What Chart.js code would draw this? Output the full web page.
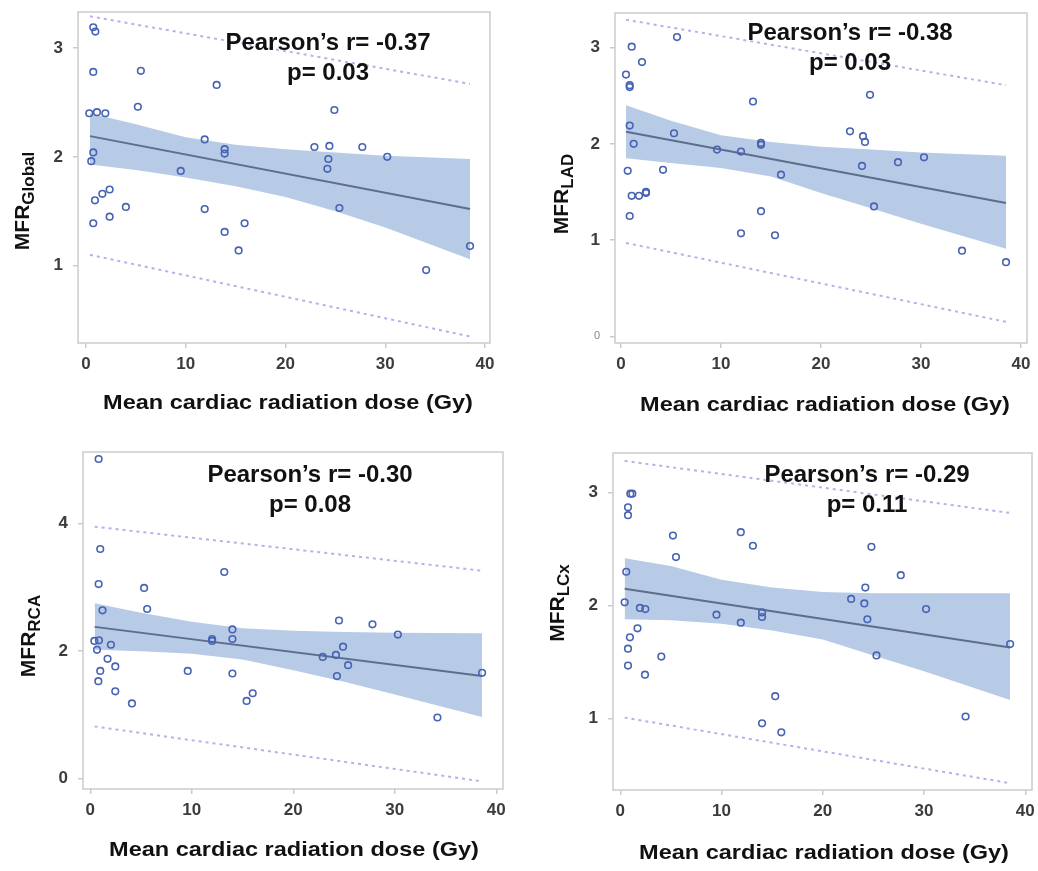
<!DOCTYPE html>
<html><head><meta charset="utf-8">
<script src="https://cdn.jsdelivr.net/npm/chart.js@4.4.1/dist/chart.umd.min.js"></script>
<style>
html,body{margin:0;padding:0;background:#fff;}
#wrap{position:relative;width:1038px;height:871px;overflow:hidden;background:#fff;}
canvas{position:absolute;}
</style></head><body><div id="wrap">
<canvas id="c1" width="519" height="430" style="left:0px;top:0px"></canvas>
<canvas id="c2" width="519" height="430" style="left:519px;top:0px"></canvas>
<canvas id="c3" width="519" height="441" style="left:0px;top:430px"></canvas>
<canvas id="c4" width="519" height="441" style="left:519px;top:430px"></canvas>
</div>
<script>
// ---------- DATA ----------
const xTicks = [0, 10, 20, 30, 40];
const xTitle = "Mean cardiac radiation dose (Gy)";
const yLabelMain = "MFR";

// Panel 1: MFR Global
const doseGlobal = [0.73,0.94,0.73,5.5,13.1,0.33,1.1,1.94,5.2,24.9,11.9,13.9,13.9,22.9,24.4,27.7,30.2,24.3,24.2,0.73,0.53,9.5,2.37,1.64,0.9,4.0,11.9,2.37,25.4,0.73,15.9,13.9,15.3,38.5,34.1];
const mfrGlobal  = [3.19,3.15,2.78,2.79,2.66,2.40,2.41,2.40,2.46,2.43,2.16,2.07,2.03,2.09,2.10,2.09,2.00,1.98,1.89,2.04,1.96,1.87,1.70,1.66,1.60,1.54,1.52,1.45,1.53,1.39,1.39,1.31,1.14,1.18,0.96];
const fitXGlobal = [0.4, 38.5];
const fitYGlobal = [2.19, 1.52];
const bandXGlobal = [0.4, 5, 10, 15, 20, 25, 30, 38.5];
const ciUpGlobal  = [2.40, 2.30, 2.18, 2.11, 2.07, 2.04, 2.01, 1.98];
const ciLoGlobal  = [1.93, 1.88, 1.81, 1.73, 1.63, 1.50, 1.35, 1.06];
const piUpGlobal  = [3.29, 2.67];
const piLoGlobal  = [1.10, 0.35];
const yTicksGlobal = [1, 2, 3];

// Panel 2: MFR LAD
const doseLAD = [5.6,1.07,2.1,0.5,0.87,0.87,13.2,24.9,0.87,1.27,5.3,9.6,12.0,14.0,14.0,22.9,24.2,24.4,24.1,27.7,30.3,16.0,0.67,4.2,1.07,1.8,2.5,2.5,0.87,25.3,14.0,12.0,15.4,34.1,38.5];
const mfrLAD  = [3.11,3.01,2.85,2.72,2.61,2.59,2.44,2.51,2.19,2.00,2.11,1.94,1.92,2.01,1.99,2.13,2.08,2.02,1.77,1.81,1.86,1.68,1.72,1.73,1.46,1.46,1.49,1.50,1.25,1.35,1.30,1.07,1.05,0.89,0.77];
const fitXLAD = [0.5, 38.5];
const fitYLAD = [2.125, 1.385];
const bandXLAD = [0.5, 5, 10, 15, 20, 25, 30, 38.5];
const ciUpLAD  = [2.40, 2.24, 2.09, 2.02, 1.97, 1.94, 1.91, 1.875];
const ciLoLAD  = [1.85, 1.80, 1.75, 1.66, 1.49, 1.33, 1.17, 0.91];
const piUpLAD  = [3.29, 2.61];
const piLoLAD  = [0.97, 0.15];
const yTicksLAD = [0, 1, 2, 3];

// Panel 3: MFR RCA
const doseRCA = [0.82,0.98,0.82,13.2,5.3,5.6,1.2,24.5,27.8,30.3,14.0,14.0,12.0,12.0,0.4,0.85,0.66,2.03,24.9,22.9,24.2,1.7,2.46,25.4,0.98,9.6,14.0,24.3,0.79,2.46,16.0,15.4,4.1,38.6,34.2];
const mfrRCA  = [5.01,3.60,3.05,3.24,2.99,2.66,2.64,2.48,2.42,2.26,2.34,2.19,2.19,2.16,2.16,2.17,2.02,2.10,2.07,1.91,1.94,1.88,1.76,1.78,1.69,1.69,1.65,1.61,1.53,1.37,1.34,1.22,1.18,1.66,0.96];
const fitXRCA = [0.43, 38.6];
const fitYRCA = [2.38, 1.61];
const bandXRCA = [0.43, 5, 10, 15, 20, 25, 30, 38.6];
const ciUpRCA  = [2.75, 2.60, 2.46, 2.36, 2.32, 2.30, 2.29, 2.28];
const ciLoRCA  = [2.02, 2.00, 1.96, 1.87, 1.70, 1.52, 1.32, 0.97];
const piUpRCA  = [3.95, 3.26];
const piLoRCA  = [0.82, -0.04];
const yTicksRCA = [0, 2, 4];

// Panel 4: MFR LCx
const doseLCx = [0.99,1.19,0.76,0.76,5.2,11.9,13.1,24.8,5.5,0.59,27.7,24.2,0.43,22.8,24.1,1.94,2.47,30.2,9.5,14.0,14.0,11.9,24.4,1.7,0.95,0.76,4.05,25.3,0.76,2.44,38.5,15.3,34.1,14.0,15.9];
const mfrLCx  = [2.99,2.99,2.87,2.80,2.62,2.65,2.53,2.52,2.43,2.30,2.27,2.16,2.03,2.06,2.02,1.98,1.97,1.97,1.92,1.94,1.90,1.85,1.88,1.80,1.72,1.62,1.55,1.56,1.47,1.39,1.66,1.20,1.02,0.96,0.88];
const fitXLCx = [0.43, 38.5];
const fitYLCx = [2.15, 1.63];
const bandXLCx = [0.43, 5, 10, 15, 20, 25, 30, 38.5];
const ciUpLCx  = [2.42, 2.35, 2.23, 2.16, 2.12, 2.11, 2.11, 2.11];
const ciLoLCx  = [1.88, 1.87, 1.84, 1.78, 1.70, 1.56, 1.42, 1.165];
const piUpLCx  = [3.28, 2.82];
const piLoLCx  = [1.01, 0.43];
const yTicksLCx = [1, 2, 3];

const statLines = {
  Global: ["Pearson\u2019s r= -0.37", "p= 0.03"],
  LAD:    ["Pearson\u2019s r= -0.38", "p= 0.03"],
  RCA:    ["Pearson\u2019s r= -0.30", "p= 0.08"],
  LCx:    ["Pearson\u2019s r= -0.29", "p= 0.11"]
};

// ---------- STYLE / LAYOUT ----------
const COL = {
  point: '#4863b5', band: '#b7cbe6', fit: '#5c6d8d', pi: '#b0b4e8',
  frame: '#cbcbcb', tick: '#3c3c3c', text: '#111'
};
const FONT = '"Liberation Sans", Arial, sans-serif';

const panels = [
  { id:'c1', sub:'Global', x:doseGlobal, y:mfrGlobal, fx:fitXGlobal, fy:fitYGlobal, bx:bandXGlobal, up:ciUpGlobal, lo:ciLoGlobal, pu:piUpGlobal, pl:piLoGlobal, yt:yTicksGlobal,
    yMin:0.29, yMax:3.33, xMin:-0.8, xMax:40.5,
    area:{l:78, t:12, r:490, b:343}, stat:[328,43,73], xt:[288,403], ytl:[21,201] },
  { id:'c2', sub:'LAD', x:doseLAD, y:mfrLAD, fx:fitXLAD, fy:fitYLAD, bx:bandXLAD, up:ciUpLAD, lo:ciLoLAD, pu:piUpLAD, pl:piLoLAD, yt:yTicksLAD,
    yMin:-0.07, yMax:3.36, xMin:-0.6, xMax:40.6, smallZero:true,
    area:{l:96, t:13, r:508, b:343}, stat:[331,33,63], xt:[306,405], ytl:[41,194] },
  { id:'c3', sub:'RCA', x:doseRCA, y:mfrRCA, fx:fitXRCA, fy:fitYRCA, bx:bandXRCA, up:ciUpRCA, lo:ciLoRCA, pu:piUpRCA, pl:piLoRCA, yt:yTicksRCA,
    yMin:-0.16, yMax:5.12, xMin:-0.72, xMax:40.66,
    area:{l:83, t:22, r:503, b:359}, stat:[310,45,75], xt:[294,420], ytl:[27,206] },
  { id:'c4', sub:'LCx', x:doseLCx, y:mfrLCx, fx:fitXLCx, fy:fitYLCx, bx:bandXLCx, up:ciUpLCx, lo:ciLoLCx, pu:piUpLCx, pl:piLoLCx, yt:yTicksLCx,
    yMin:0.37, yMax:3.35, xMin:-0.72, xMax:40.66,
    area:{l:94, t:23, r:513, b:360}, stat:[348,45,75], xt:[305,423], ytl:[37,173] }
];

const pts = (xs, ys) => xs.map((v, i) => ({ x: v, y: ys[i] }));
const zeroPad = s => { s.paddingTop = 0; s.paddingBottom = 0; s.paddingLeft = 0; s.paddingRight = 0; };

const decorPlugin = {
  id: 'decor',
  beforeDatasetsDraw(chart) {
    const a = chart.chartArea, ctx = chart.ctx;
    ctx.save();
    ctx.strokeStyle = COL.frame; ctx.lineWidth = 1.5;
    ctx.strokeRect(a.left, a.top, a.right - a.left, a.bottom - a.top);
    ctx.restore();
  },
  afterDraw(chart) {
    const p = chart.options.plugins.decor.panel, ctx = chart.ctx;
    ctx.save();
    ctx.fillStyle = COL.text;
    ctx.textAlign = 'center'; ctx.textBaseline = 'middle';
    // stats annotation
    ctx.font = 'bold 24px ' + FONT;
    const s = statLines[p.sub];
    ctx.fillText(s[0], p.stat[0], p.stat[1]);
    ctx.fillText(s[1], p.stat[0], p.stat[2]);
    // x title
    ctx.save();
    ctx.translate(p.xt[0], p.xt[1]);
    ctx.scale(1.12, 1);
    ctx.font = 'bold 21px ' + FONT;
    ctx.fillText(xTitle, 0, 0);
    ctx.restore();
    // y title with subscript
    ctx.translate(p.ytl[0], p.ytl[1]);
    ctx.rotate(-Math.PI / 2);
    ctx.textAlign = 'left'; ctx.textBaseline = 'alphabetic';
    ctx.font = 'bold 21px ' + FONT;
    const w1 = ctx.measureText(yLabelMain).width;
    ctx.font = 'bold 17px ' + FONT;
    const w2 = ctx.measureText(p.sub).width;
    const x0 = -(w1 + w2) / 2;
    ctx.font = 'bold 21px ' + FONT;
    ctx.fillText(yLabelMain, x0, 7.5);
    ctx.font = 'bold 17px ' + FONT;
    ctx.fillText(p.sub, x0 + w1, 13);
    ctx.restore();
  }
};

panels.forEach(p => {
  const cv = document.getElementById(p.id);
  const W = cv.width, H = cv.height;
  const isSmall = c => p.smallZero && c.tick && c.tick.value === 0;
  new Chart(cv, {
    type: 'line',
    data: {
      datasets: [
        { data: pts(p.bx, p.up), fill: '+1', backgroundColor: COL.band, borderWidth: 0, borderColor: 'rgba(0,0,0,0)', pointRadius: 0, order: 5 },
        { data: pts(p.bx, p.lo), fill: false, borderWidth: 0, borderColor: 'rgba(0,0,0,0)', pointRadius: 0, order: 5 },
        { data: pts(p.fx, p.pu), borderColor: COL.pi, borderWidth: 2, borderDash: [3, 4], pointRadius: 0, fill: false, order: 3 },
        { data: pts(p.fx, p.pl), borderColor: COL.pi, borderWidth: 2, borderDash: [3, 4], pointRadius: 0, fill: false, order: 3 },
        { data: pts(p.fx, p.fy), borderColor: COL.fit, borderWidth: 2, pointRadius: 0, fill: false, order: 2 },
        { data: pts(p.x, p.y), showLine: false, pointRadius: 3.3, pointBorderWidth: 1.6,
          pointBorderColor: COL.point, pointBackgroundColor: 'rgba(255,255,255,0)', order: 1 }
      ]
    },
    options: {
      responsive: false, animation: false, devicePixelRatio: 1,
      layout: { padding: { top: p.area.t, right: W - p.area.r, left: 0, bottom: 0 } },
      elements: { line: { tension: 0 } },
      plugins: { legend: { display: false }, tooltip: { enabled: false }, decor: { panel: p } },
      scales: {
        x: {
          type: 'linear', min: p.xMin, max: p.xMax,
          afterFit: s => { s.height = H - p.area.b; zeroPad(s); },
          afterBuildTicks: s => { s.ticks = xTicks.map(v => ({ value: v })); },
          grid: { display: true, drawOnChartArea: false, drawTicks: true, tickLength: 5, color: COL.frame, lineWidth: 1.5 },
          border: { display: false },
          ticks: { font: { family: FONT, size: 17, weight: 'bold' }, color: COL.tick, padding: 6, maxRotation: 0 }
        },
        y: {
          type: 'linear', min: p.yMin, max: p.yMax,
          afterFit: s => { s.width = p.area.l; zeroPad(s); },
          afterBuildTicks: s => { s.ticks = p.yt.map(v => ({ value: v })); },
          grid: { display: true, drawOnChartArea: false, drawTicks: true, tickLength: 5, color: COL.frame, lineWidth: 1.5 },
          border: { display: false },
          ticks: {
            font: c => isSmall(c) ? { family: FONT, size: 11, weight: 'normal' } : { family: FONT, size: 17, weight: 'bold' },
            color: c => isSmall(c) ? '#888' : COL.tick,
            padding: 10
          }
        }
      }
    },
    plugins: [decorPlugin]
  });
});
</script>
</body></html>
